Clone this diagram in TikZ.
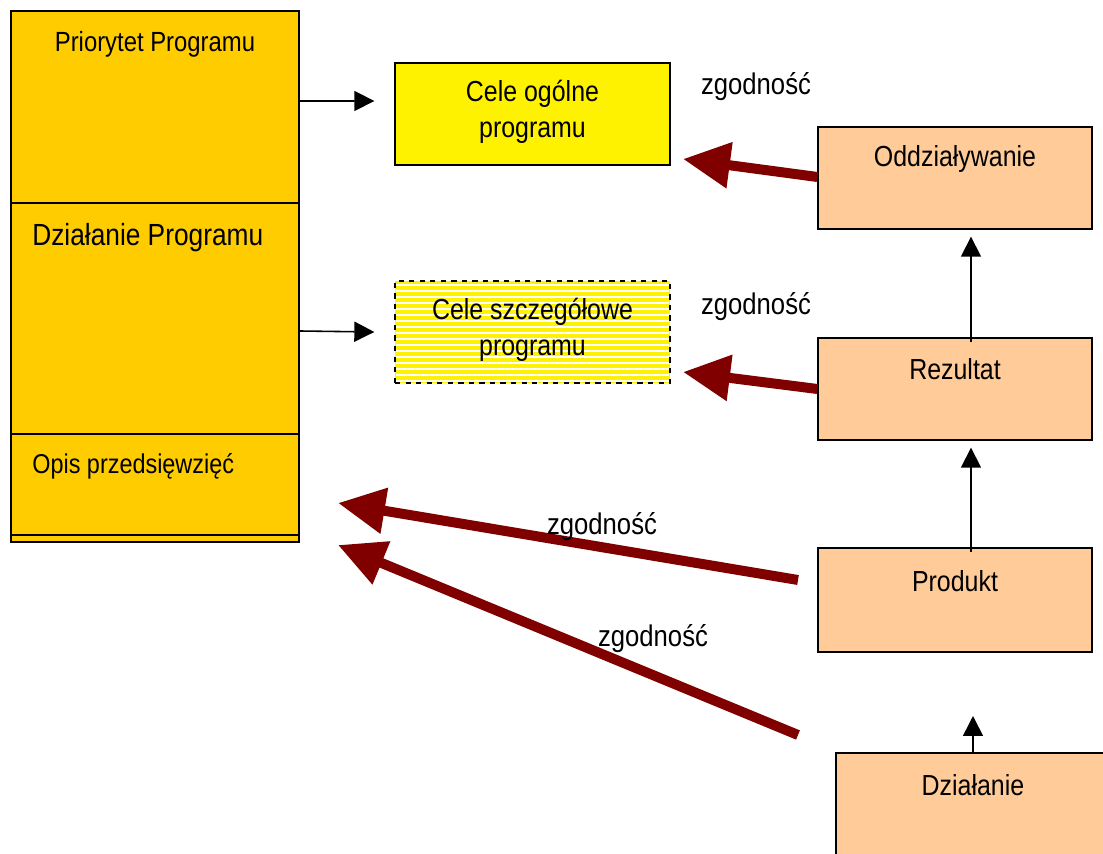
\documentclass[tikz,border=0pt]{standalone}
\usepackage{fontspec}
\setmainfont{Liberation Sans}[FakeStretch=0.86]
\usetikzlibrary{arrows.meta}
\definecolor{gold}{HTML}{FFCC00}
\definecolor{peach}{HTML}{FFCC99}
\definecolor{darkred}{HTML}{800000}
\begin{document}
\begin{tikzpicture}[x=0.02cm,y=-0.02cm,
  lbox/.style={draw,line width=0.8pt,fill=gold,inner sep=0pt,minimum width=5.76cm},
  gbox/.style={draw,line width=0.8pt,inner sep=0pt,minimum width=5.5cm,minimum height=2.04cm},
  pbox/.style={draw,line width=0.8pt,fill=peach,inner sep=0pt,minimum width=5.48cm,minimum height=2.04cm},
  txt/.style={font=\fontsize{16.5}{20.4}\selectfont,align=center,inner sep=0pt,yshift=-0.06cm},
  flow/.style={line width=0.9pt,-{Triangle[length=0.4cm,width=0.4cm]}},
  match/.style={line width=0.2cm,darkred,-{Triangle[length=0.94cm,width=0.88cm]}}]
  \useasboundingbox (0,0) rectangle (1103,854);
  \node[lbox,minimum height=3.84cm] (prio) at (155,107) {};
  \node[lbox,minimum height=4.62cm] (dzial) at (155,318.5) {};
  \node[lbox,minimum height=2.02cm] (opis) at (155,484.5) {};
  \node[lbox,minimum height=0.14cm] (strip) at (155,538.5) {};
  \node[txt,font=\fontsize{15.8}{19}\selectfont] (priot) at (155,41) {Priorytet Programu};
  \node[txt,font=\fontsize{17.4}{21}\selectfont,anchor=west] (dzialt) at (32,235) {Działanie Programu};
  \node[txt,font=\fontsize{15.5}{19}\selectfont,anchor=west] (opist) at (32,463) {Opis przedsięwzięć};
  \node[gbox,fill=yellow] (ogol) at (532.5,114) {};
  \node[txt] (ogolt) at (532.5,109) {Cele ogólne\\programu};
  \fill[yellow] (395,281) rectangle (670,383);
  \foreach \y in {285,291,...,381}
    \draw[white,line width=0.6pt] (396,\y) -- (669,\y);
  \node[gbox,dashed] (szcz) at (532.5,332) {};
  \node[txt] (szczt) at (532.5,327) {Cele szczegółowe\\programu};
  \node[pbox] (odd) at (955,178) {};
  \node[txt] (oddt) at (955,156) {Oddziaływanie};
  \node[pbox] (rez) at (955,389) {};
  \node[txt] (rezt) at (955,366) {Rezultat};
  \node[pbox,minimum height=2.08cm] (prod) at (955,600) {};
  \node[txt] (prodt) at (955,578) {Produkt};
  \node[pbox,minimum height=2.2cm] (dzia) at (973,808) {};
  \node[txt] (dziat) at (973,782) {Działanie};
  \node[txt,font=\fontsize{17}{20}\selectfont] (zg1) at (756,84) {zgodność};
  \node[txt,font=\fontsize{17}{20}\selectfont] (zg2) at (756,304) {zgodność};
  \coordinate (t1) at (683,159);
  \coordinate (t2) at (683,372);
  \coordinate (t3) at (338,503);
  \coordinate (t4) at (338,545);
  \coordinate (s3) at (798,580);
  \coordinate (s4) at (798,735);
  \coordinate (up) at (973,716);
  \draw[flow] ([yshift=0.12cm]prio.east) -- ([xshift=-0.4cm,yshift=0.26cm]ogol.west);
  \draw[flow] ([yshift=-0.25cm]dzial.east) -- ([xshift=-0.4cm]szcz.west);
  \draw[flow] ([xshift=0.32cm,yshift=-0.1cm]rez.north) -- ([xshift=0.32cm,yshift=-0.14cm]odd.south);
  \draw[flow] ([xshift=0.32cm,yshift=-0.1cm]prod.north) -- ([xshift=0.32cm,yshift=-0.14cm]rez.south);
  \draw[flow] (dzia.north) -- (up);
  \draw[match] ([yshift=0.02cm]odd.west) -- (t1);
  \draw[match] (rez.west) -- (t2);
  \draw[match] (s3) -- (t3);
  \draw[match] (s4) -- (t4);
  \node[txt,font=\fontsize{17}{20}\selectfont] (zg3) at (602,524) {zgodność};
  \node[txt,font=\fontsize{17}{20}\selectfont] (zg4) at (653,636) {zgodność};
\end{tikzpicture}
\end{document}
